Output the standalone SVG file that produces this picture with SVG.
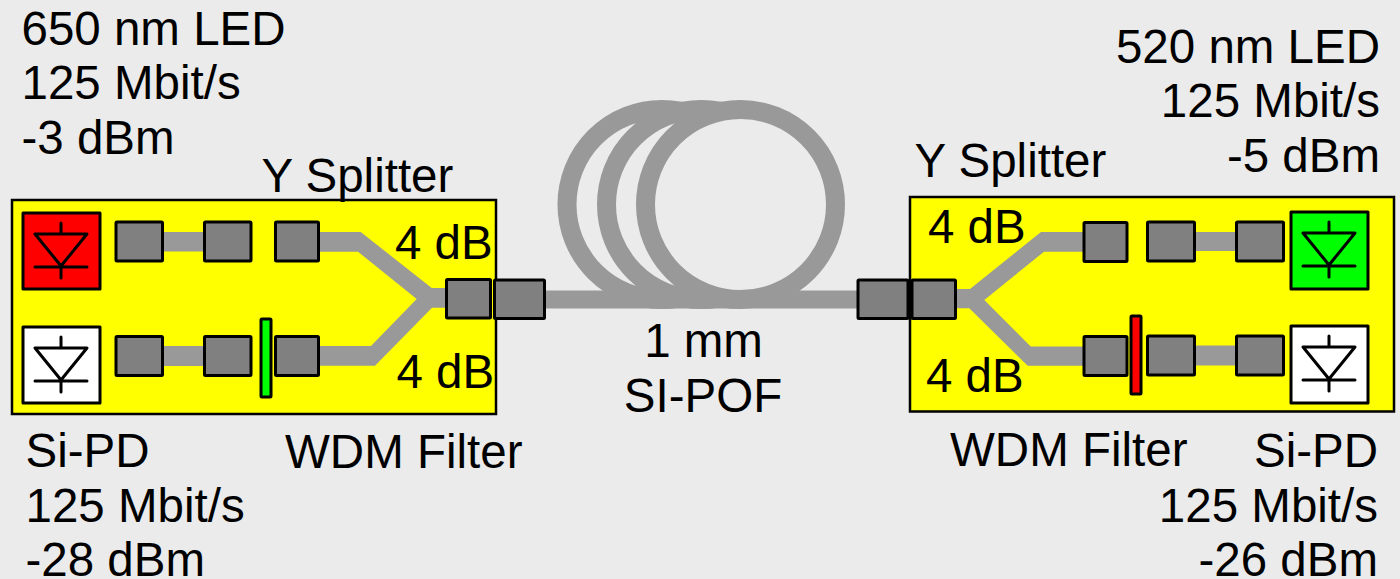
<svg xmlns="http://www.w3.org/2000/svg" width="1400" height="579" viewBox="0 0 1400 579">
<style>
text{font-family:"Liberation Sans",Arial,sans-serif;font-size:47.500px;fill:#000}
.e{text-anchor:end}.m{text-anchor:middle}
.panel{fill:#ff0;stroke:#000;stroke-width:2.5}
.c{fill:#808080;stroke:#000;stroke-width:3;stroke-linejoin:round}
.w{fill:#999;stroke:none}
.f{fill:#ebebeb;stroke:#999;stroke-width:19}
.pd{stroke:#000;stroke-width:3;stroke-linejoin:round}
.d{stroke:#000;stroke-width:3;stroke-linecap:round;stroke-linejoin:round;fill:none}
</style>
<defs>
<g id="diode"><path class="d" d="M-26 -16H26L0 16ZM-26 17H26M0 -27V-16M0 16V28"/></g>
</defs>
<rect width="1400" height="579" fill="#ebebeb"/>
<g id="left-module"><rect class="panel" x="12" y="200" width="484" height="214"/></g>
<g id="right-module"><rect class="panel" x="910" y="197" width="484" height="214.500"/></g>
<g id="connectors">
<circle class="f" cx="662" cy="204.500" r="95"/>
<circle class="f" cx="701.500" cy="204.500" r="95"/>
<circle class="f" cx="740.500" cy="204.500" r="95"/>
<rect class="w" x="540" y="290.500" width="320" height="18"/>
<rect class="w" x="160" y="232" width="46" height="19.500"/>
<rect class="w" x="160" y="346" width="46" height="20"/>
<rect class="w" x="1193" y="232" width="45" height="19"/>
<rect class="w" x="1193" y="345.500" width="45" height="20"/>
<polygon class="w" points="317,232 360.700,232 431.700,288 448,288 448,307.700 432,307.700 375,365.700 317,365.700 317,346 371,346 416.700,299 358,251.700 317,251.700"/>
<polygon class="w" points="954,289 970,289 1041,232 1086,232 1086,251.700 1044,251.700 984.300,300 1030.700,346.500 1086,346.500 1086,365.700 1027.700,365.700 969.300,308.300 954,308.300"/>
</g>
<g id="tx-650"><rect class="pd" fill="#f00" x="23" y="213" width="77" height="76"/><use href="#diode" x="61" y="250"/></g>
<g id="rx-left"><rect class="pd" fill="#fff" x="23" y="327" width="77" height="76"/><use href="#diode" x="61" y="364"/></g>
<g id="tx-520"><rect class="pd" fill="#0f0" x="1291" y="212" width="77" height="77"/><use href="#diode" x="1329" y="249"/></g>
<g id="rx-right"><rect class="pd" fill="#fff" x="1291" y="326" width="77" height="77"/><use href="#diode" x="1329" y="363"/></g>
<g id="left-couplers">
<rect class="c" x="116" y="222" width="46.500" height="39" rx="1"/>
<rect class="c" x="204.500" y="222" width="46.500" height="39" rx="1"/>
<rect class="c" x="275.500" y="222" width="43" height="39" rx="1"/>
<rect class="c" x="116" y="336.500" width="46.500" height="39" rx="1"/>
<rect class="c" x="204.500" y="336.500" width="46.500" height="39" rx="1"/>
<rect class="c" x="275.500" y="336.500" width="43" height="39" rx="1"/>
<rect class="c" x="446.500" y="279.500" width="44" height="38.500" rx="1"/>
<rect class="c" x="494.500" y="280" width="50" height="38.500" rx="1"/>
</g>
<g id="right-couplers">
<rect class="c" x="858" y="280" width="50" height="38.500" rx="1"/>
<rect class="c" x="912" y="280" width="43.500" height="38.500" rx="1"/>
<rect class="c" x="1084" y="222.500" width="43" height="39" rx="1"/>
<rect class="c" x="1084" y="336.500" width="43" height="39" rx="1"/>
<rect class="c" x="1147.500" y="222" width="47" height="39" rx="1"/>
<rect class="c" x="1236.500" y="222" width="47" height="39" rx="1"/>
<rect class="c" x="1147.500" y="336" width="47" height="39" rx="1"/>
<rect class="c" x="1236.500" y="336" width="47" height="39" rx="1"/>
</g>
<g id="wdm-left"><rect class="c" style="fill:#0f0" x="261" y="319" width="10" height="78" rx="1"/></g>
<g id="wdm-right"><rect class="c" style="fill:#f00" x="1131" y="316" width="10" height="78" rx="1"/></g>
<g id="labels">
<text x="21.500" y="45">650 nm LED</text>
<text x="21.500" y="99">125 Mbit/s</text>
<text x="21.500" y="154">-3 dBm</text>
<text x="261.500" y="192">Y Splitter</text>
<text x="395" y="259">4 dB</text>
<text x="396.500" y="388">4 dB</text>
<text x="285" y="468">WDM Filter</text>
<text x="25.500" y="467">Si-PD</text>
<text x="25.500" y="522">125 Mbit/s</text>
<text x="25.500" y="576">-28 dBm</text>
<text class="m" x="703.500" y="357">1 mm</text>
<text class="m" x="703" y="412">SI-POF</text>
<text class="e" x="1380" y="63">520 nm LED</text>
<text class="e" x="1380" y="117">125 Mbit/s</text>
<text class="e" x="1380" y="172">-5 dBm</text>
<text x="914.500" y="177">Y Splitter</text>
<text x="928" y="243">4 dB</text>
<text x="926" y="392">4 dB</text>
<text x="950" y="466">WDM Filter</text>
<text class="e" x="1378" y="467">Si-PD</text>
<text class="e" x="1378" y="522">125 Mbit/s</text>
<text class="e" x="1378" y="576">-26 dBm</text>
</g>
</svg>
